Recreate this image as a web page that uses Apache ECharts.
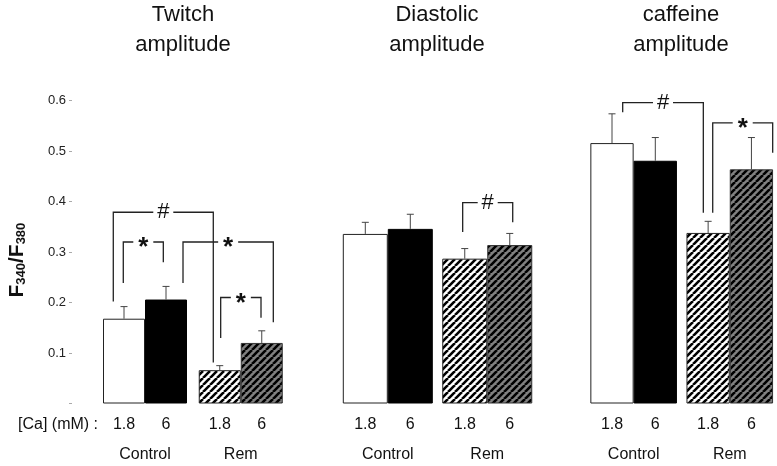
<!DOCTYPE html>
<html>
<head>
<meta charset="utf-8">
<script src="https://cdn.jsdelivr.net/npm/echarts@6/dist/echarts.min.js"></script>
<style>
  html, body { margin: 0; background: #fff; }
  #chart { width: 777px; height: 466px; }
</style>
</head>
<body>
<div id="chart"></div>
<script>
const titles = ['Twitch\namplitude', 'Diastolic\namplitude', 'caffeine\namplitude'];
const groups = ['Control', 'Rem'];
const caLevels = ['1.8', '6'];
const caName = '[Ca] (mM) :';
const yTicks = [0, 0.1, 0.2, 0.3, 0.4, 0.5, 0.6];

// bar order: Control 1.8, Control 6, Rem 1.8, Rem 6
const twitchMean = [0.168, 0.206, 0.066, 0.120];
const twitchSem = [0.024, 0.026, 0.009, 0.024];
const diastolicMean = [0.336, 0.346, 0.287, 0.314];
const diastolicSem = [0.023, 0.029, 0.020, 0.023];
const caffeineMean = [0.516, 0.481, 0.338, 0.464];
const caffeineSem = [0.058, 0.046, 0.023, 0.063];

// brackets: [x left, x right, y top, y left end, y right end, mark]
const twitchMarks = [
  [-0.255, 2.126, 0.379, 0.202, 0.081, '#'],
  [-0.017, 0.936, 0.320, 0.239, 0.280, '*'],
  [1.405, 3.555, 0.320, 0.239, 0.161, '*'],
  [2.302, 3.262, 0.210, 0.130, 0.170, '*']
];
const diastolicMarks = [
  [2.164, 3.276, 0.398, 0.340, 0.359, '#']
];
const caffeineMarks = [
  [0.247, 2.109, 0.596, 0.577, 0.378, '#'],
  [2.326, 3.711, 0.556, 0.378, 0.497, '*']
];

const FONT = '"Liberation Sans", Arial, sans-serif';

// layout of the three panels (pixel centre of first bar, bar width, gap between pairs)
const panels = [
  { mean: twitchMean, sem: twitchSem, marks: twitchMarks, c0: 124, unit: 42, gap: 0.28, tx: 183 },
  { mean: diastolicMean, sem: diastolicSem, marks: diastolicMarks, c0: 365.3, unit: 45, gap: 0.21, tx: 437 },
  { mean: caffeineMean, sem: caffeineSem, marks: caffeineMarks, c0: 612, unit: 43.3, gap: 0.22, tx: 681 }
];
const plotTop = 100.7, plotBottom = 62.5;

function hatch(bg) {
  const s = 7;
  const cv = document.createElement('canvas');
  cv.width = s; cv.height = s;
  const ctx = cv.getContext('2d');
  ctx.fillStyle = bg;
  ctx.fillRect(0, 0, s, s);
  ctx.strokeStyle = '#000';
  ctx.lineWidth = 2.6;
  ctx.beginPath();
  for (const k of [-1, 0, 1]) {
    ctx.moveTo(k * s, s);
    ctx.lineTo(k * s + s, 0);
  }
  ctx.stroke();
  return cv;
}

const fills = [
  { color: '#fff', borderColor: '#222', borderWidth: 1 },
  { color: '#000', borderColor: '#000', borderWidth: 1 },
  { color: { image: hatch('#fff'), repeat: 'repeat' }, borderColor: '#222', borderWidth: 1 },
  { color: { image: hatch('#808080'), repeat: 'repeat' }, borderColor: '#333', borderWidth: 1 }
];

const yRange = { type: 'value', min: yTicks[0], max: yTicks[yTicks.length - 1], interval: yTicks[1] - yTicks[0] };
const grid = [], xAxis = [], yAxis = [], series = [], graphic = [];

panels.forEach((p, i) => {
  const barX = [0, 1, 2 + p.gap, 3 + p.gap];
  grid.push({ left: p.c0 - p.unit / 2, width: (4 + p.gap) * p.unit, top: plotTop, bottom: plotBottom });
  xAxis.push({ gridIndex: i, type: 'value', min: -0.5, max: 3.5 + p.gap, show: false });
  yAxis.push(Object.assign({ gridIndex: i, show: false }, yRange));

  series.push({
    type: 'bar', xAxisIndex: i, yAxisIndex: i, barWidth: p.unit,
    data: p.mean.map((v, j) => ({ value: [barX[j], v], itemStyle: fills[j] }))
  });

  // error bars (upper only)
  series.push({
    type: 'custom', xAxisIndex: i, yAxisIndex: i, clip: false, z: 3,
    data: p.mean.map((v, j) => [barX[j], v, p.sem[j]]),
    renderItem: (params, api) => {
      const a = api.coord([api.value(0), api.value(1)]);
      const b = api.coord([api.value(0), api.value(1) + api.value(2)]);
      const st = { stroke: '#444', lineWidth: 1 };
      return {
        type: 'group', children: [
          { type: 'line', shape: { x1: a[0], y1: a[1], x2: b[0], y2: b[1] }, style: st },
          { type: 'line', shape: { x1: b[0] - 3.5, y1: b[1], x2: b[0] + 3.5, y2: b[1] }, style: st }
        ]
      };
    }
  });

  // significance brackets
  series.push({
    type: 'custom', xAxisIndex: i, yAxisIndex: i, clip: false, z: 4,
    data: p.marks.map(m => m.slice(0, 5)),
    renderItem: (params, api) => {
      const m = p.marks[params.dataIndex];
      const l = api.coord([m[0], m[3]]);
      const lt = api.coord([m[0], m[2]]);
      const rt = api.coord([m[1], m[2]]);
      const r = api.coord([m[1], m[4]]);
      const mid = (lt[0] + rt[0]) / 2;
      const hg = 10;
      const st = { stroke: '#222', lineWidth: 1.3, fill: null };
      const star = m[5] === '*';
      return {
        type: 'group', children: [
          { type: 'polyline', shape: { points: [l, lt, [mid - hg, lt[1]]] }, style: st },
          { type: 'polyline', shape: { points: [[mid + hg, rt[1]], rt, r] }, style: st },
          {
            type: 'text', x: mid, y: lt[1] + (star ? 6 : 0),
            style: {
              text: m[5], align: 'center', verticalAlign: 'middle',
              fontSize: star ? 26 : 22, fontWeight: star ? 'bold' : 'normal',
              fontFamily: FONT, fill: '#111'
            }
          }
        ]
      };
    }
  });

  // category labels under the bars
  series.push({
    type: 'custom', xAxisIndex: i, yAxisIndex: i, clip: false,
    data: [[barX[0], barX[1], 0], [barX[2], barX[3], 1]],
    renderItem: (params, api) => {
      const a = api.coord([api.value(0), 0]);
      const b = api.coord([api.value(1), 0]);
      const ts = { align: 'center', verticalAlign: 'middle', fontSize: 16, fontFamily: FONT, fill: '#111' };
      return {
        type: 'group', children: [
          { type: 'text', x: a[0], y: a[1] + 21, style: Object.assign({ text: caLevels[0] }, ts) },
          { type: 'text', x: b[0], y: b[1] + 21, style: Object.assign({ text: caLevels[1] }, ts) },
          { type: 'text', x: (a[0] + b[0]) / 2, y: a[1] + 51, style: Object.assign({ text: groups[api.value(2)] }, ts) }
        ]
      };
    }
  });

  graphic.push({
    type: 'text', x: p.tx, y: 0,
    style: { text: titles[i], align: 'center', verticalAlign: 'top', fontSize: 22, lineHeight: 30, fontFamily: FONT, fill: '#111' }
  });
});

// separate thin grid that carries the shared y axis
grid.push({ left: 72, width: 10, top: plotTop, bottom: plotBottom });
xAxis.push({ gridIndex: 3, type: 'value', min: 0, max: 1, show: false });
yAxis.push(Object.assign({
  gridIndex: 3,
  axisLine: { show: false },
  splitLine: { show: false },
  axisTick: { show: true, length: 3, lineStyle: { color: '#aaa' } },
  axisLabel: {
    margin: 6, fontSize: 13, color: '#222', fontFamily: FONT,
    formatter: v => (v === 0 ? '' : v.toFixed(1))
  },
  name: '{b|F}{s|340}{b|/F}{s|380}',
  nameLocation: 'middle',
  nameRotate: 90,
  nameGap: 44,
  nameTextStyle: {
    padding: [0, 16, 0, 0],
    rich: {
      b: { fontSize: 21, fontWeight: 'bold', fontFamily: FONT, color: '#111', lineHeight: 21, verticalAlign: 'top' },
      s: { fontSize: 13, fontWeight: 'bold', fontFamily: FONT, color: '#111', lineHeight: 13, verticalAlign: 'bottom', padding: [11, 0, 0, 0] }
    }
  }
}, yRange));
series.push({ type: 'scatter', xAxisIndex: 3, yAxisIndex: 3, data: [], silent: true });

graphic.push({
  type: 'text', x: 98, y: 424.5,
  style: { text: caName, align: 'right', verticalAlign: 'middle', fontSize: 16, fontFamily: FONT, fill: '#111' }
});

const chart = echarts.init(document.getElementById('chart'));
chart.setOption({
  animation: false,
  backgroundColor: '#fff',
  grid, xAxis, yAxis, series, graphic
});
</script>
</body>
</html>
